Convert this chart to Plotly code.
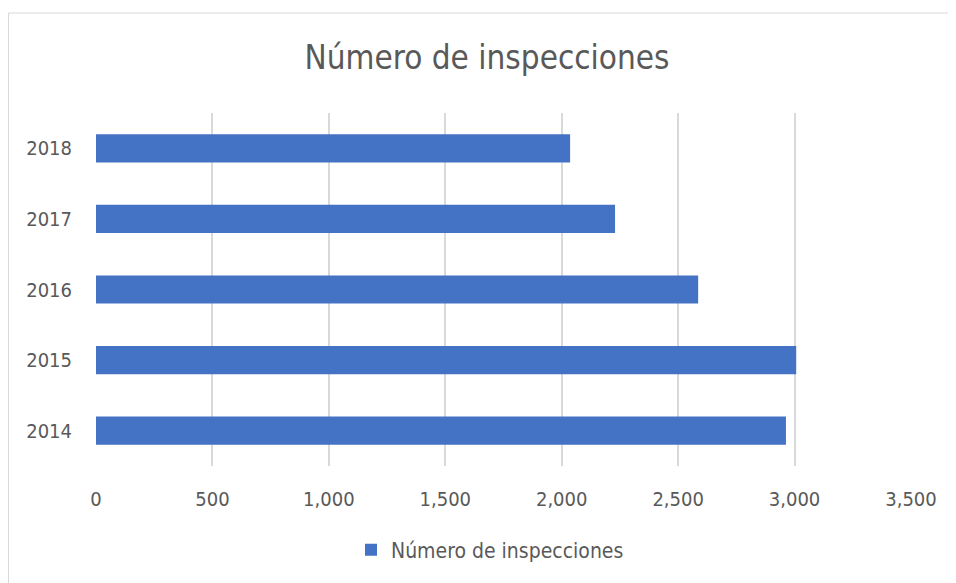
import plotly.graph_objects as go

years = ["2014", "2015", "2016", "2017", "2018"]
inspecciones = [2963, 3007, 2586, 2229, 2036]
x_ticks = [0, 500, 1000, 1500, 2000, 2500, 3000, 3500]
x_tick_labels = ["0", "500", "1,000", "1,500", "2,000", "2,500", "3,000", "3,500"]
series_name = "Número de inspecciones"

W, H = 956, 583
OFF = 8  # page body margin
ml, mt = 96 - OFF, 113 - OFF
mr = W - (911 - OFF)
mb = H - (466 - OFF)
PW, PH = W - ml - mr, H - mt - mb

fig = go.Figure()
fig.add_trace(go.Bar(
    y=years, x=inspecciones, orientation="h", name=series_name,
    marker=dict(color="#4472C4", line=dict(width=0)),
))

font_fam = "DejaVu Sans Condensed, Open Sans, sans-serif"
fig.update_layout(
    width=W, height=H,
    margin=dict(l=ml, r=mr, t=mt, b=mb),
    paper_bgcolor="white", plot_bgcolor="white",
    bargap=0.6,
    showlegend=True,
    title=dict(text=series_name, x=(487 - OFF - ml) / PW, xref="paper", xanchor="center",
               y=1 - (57 - OFF) / H, yanchor="middle",
               font=dict(family=font_fam, size=33, color="#595959")),
    xaxis=dict(range=[0, 3500], tickvals=x_ticks, ticktext=x_tick_labels,
               showgrid=True, gridcolor="#D9D9D9", gridwidth=1.5,
               zeroline=False, showline=False, ticks="",
               tickfont=dict(family=font_fam, size=20, color="#595959"),
               ticklabelstandoff=19),
    yaxis=dict(showgrid=False, zeroline=False, showline=False, ticks="",
               tickfont=dict(family=font_fam, size=20, color="#595959"),
               ticklabelstandoff=23),
    legend=dict(orientation="h", x=(490 - OFF - ml) / PW, xanchor="center", xref="paper",
                y=-(550 - 466) / PH, yanchor="middle",
                font=dict(family=font_fam, size=21, color="#595959"),
                itemwidth=30),
)
# chart border
fig.add_shape(type="rect", xref="paper", yref="paper",
              x0=-(ml - 0.5) / PW, x1=1 + (mr + 10) / PW,
              y0=-(mb + 10) / PH, y1=1 + (mt - (13 - OFF)) / PH,
              line=dict(color="#D9D9D9", width=1), layer="below")

fig.write_html("out.html")
